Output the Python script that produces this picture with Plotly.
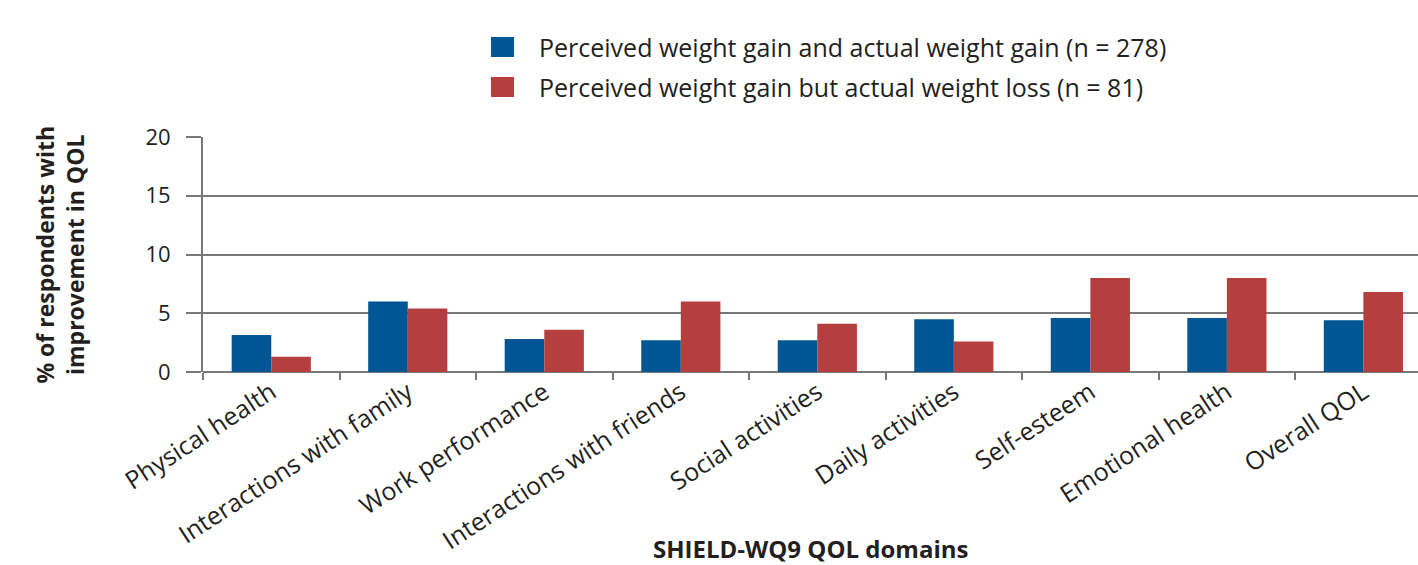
import plotly.graph_objects as go

categories = ["Physical health", "Interactions with family", "Work performance",
              "Interactions with friends", "Social activities", "Daily activities",
              "Self-esteem", "Emotional health", "Overall QOL"]
gain_gain = [3.15, 6.0, 2.8, 2.7, 2.7, 4.5, 4.6, 4.6, 4.4]
gain_loss = [1.3, 5.4, 3.6, 6.0, 4.1, 2.6, 8.0, 8.0, 6.8]
series_names = ["Perceived weight gain and actual weight gain (n = 278)",
                "Perceived weight gain but actual weight loss (n = 81)"]
series_colors = ["#005695", "#b53e3e"]
y_ticks = [0, 5, 10, 15, 20]

FONT = "Open Sans"
TXT = "#231f20"
GRID = "#77777c"

fig = go.Figure()
for vals, name, col in zip([gain_gain, gain_loss], series_names, series_colors):
    fig.add_trace(go.Bar(x=categories, y=vals, name=name,
                         marker=dict(color=col, line=dict(width=0))))

fig.update_layout(
    width=1418, height=565,
    margin=dict(l=203, r=0, t=137, b=193, autoexpand=False),
    plot_bgcolor="white", paper_bgcolor="white",
    barmode="group", bargap=0.42, bargroupgap=0,
    font=dict(family=FONT, size=20, color=TXT),
    showlegend=False,
)
fig.update_xaxes(
    range=[-0.5, 8.4], tickangle=-33, tickson="boundaries",
    ticks="outside", ticklen=7, tickwidth=2, tickcolor=GRID,
    showline=False, showgrid=False,
    tickfont=dict(size=25, family=FONT, color=TXT),
)
fig.update_yaxes(
    range=[0, 20], tickvals=y_ticks, ticks="outside", ticklen=15, tickwidth=2,
    tickcolor=GRID, showgrid=True, gridcolor=GRID, gridwidth=2,
    zeroline=True, zerolinecolor=GRID, zerolinewidth=2,
    showline=True, linecolor=GRID, linewidth=2, ticklabelstandoff=11,
    tickfont=dict(size=22, family=FONT, color=TXT),
)

# legend drawn as squares + text
leg_rows = [(1.3404, 1.4255, 1.383), (1.1702, 1.2553, 1.213)]
for (y0, y1, yc), name, col in zip(leg_rows, series_names, series_colors):
    fig.add_shape(type="rect", xref="paper", yref="paper",
                  x0=0.2370, x1=0.2560, y0=y0, y1=y1,
                  fillcolor=col, line=dict(width=0))
    fig.add_annotation(xref="paper", yref="paper", x=0.2745, y=yc,
                       xanchor="left", yanchor="middle", text=name,
                       showarrow=False, font=dict(size=25, family=FONT, color=TXT))

fig.add_annotation(xref="paper", yref="paper", x=-0.118, y=0.498,
                   xanchor="center", yanchor="middle",
                   text="<b>% of respondents with<br>improvement in QOL</b>",
                   textangle=-90, showarrow=False,
                   font=dict(size=23, family=FONT, color=TXT))
fig.add_annotation(xref="paper", yref="paper", x=0.5004, y=-0.749,
                   xanchor="center", yanchor="middle",
                   text="<b>SHIELD-WQ9 QOL domains</b>", showarrow=False,
                   font=dict(size=24, family=FONT, color=TXT))
fig.write_html("out.html", config={"displayModeBar": False},
               post_script="document.body.style.margin='0';"
                           "document.body.style.overflow='hidden';")
